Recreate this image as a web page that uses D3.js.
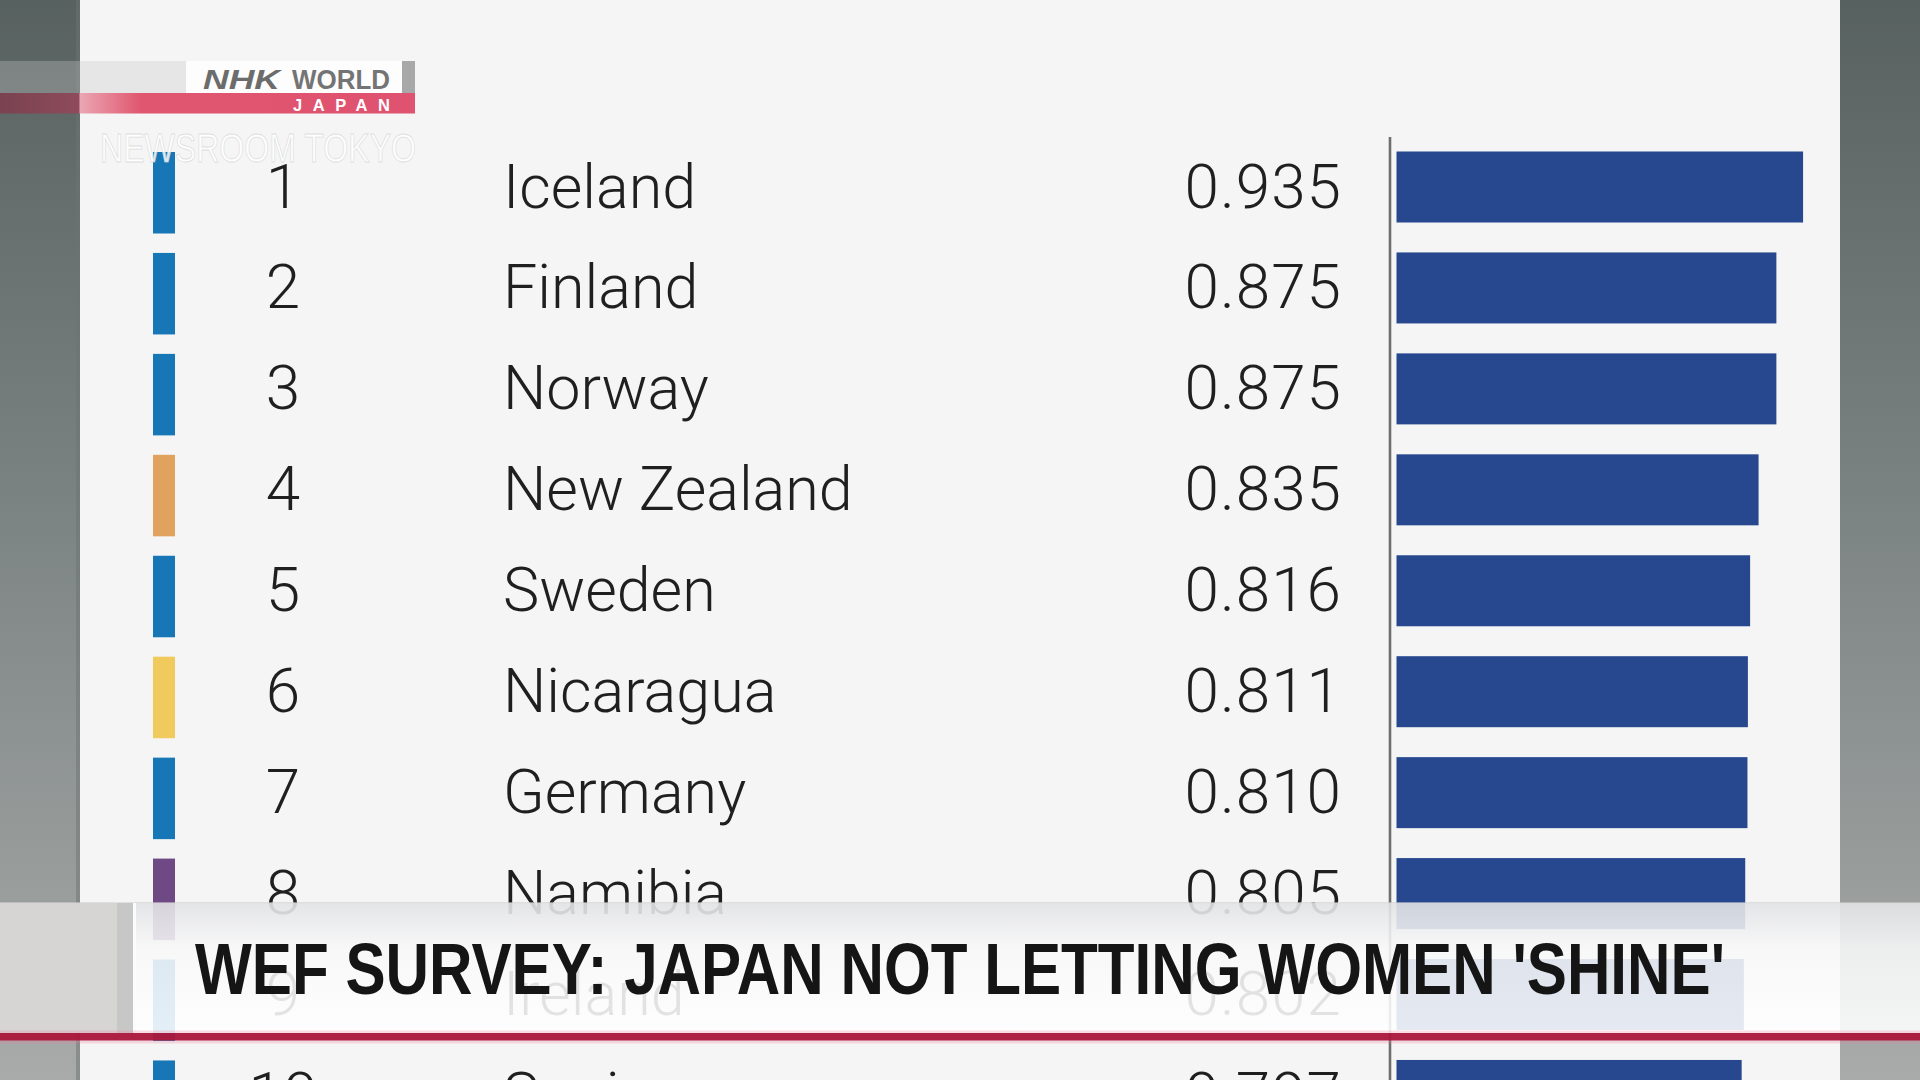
<!DOCTYPE html>
<html><head><meta charset="utf-8">
<script src="https://cdn.jsdelivr.net/npm/d3@7"></script>
<style>html,body{margin:0;padding:0;background:#5f6766;overflow:hidden}</style>
</head><body>
<svg id="c" width="1920" height="1080"></svg>
<script>
// ---- data ----
const ranks = [1, 2, 3, 4, 5, 6, 7, 8, 9, 10];
const countries = ["Iceland", "Finland", "Norway", "New Zealand", "Sweden", "Nicaragua", "Germany", "Namibia", "Ireland", "Spain"];
const scores = [0.935, 0.875, 0.875, 0.835, 0.816, 0.811, 0.810, 0.805, 0.802, 0.797];
const regions = ["Europe", "Europe", "Europe", "Oceania", "Europe", "Latin America", "Europe", "Africa", "Europe", "Europe"];
const regionNames = ["Europe", "Oceania", "Latin America", "Africa"];
const regionColors = ["#1676b6", "#e1a25e", "#f1ca5d", "#6e4984"];
const headline = "WEF SURVEY: JAPAN NOT LETTING WOMEN 'SHINE'";
const watermark = "NEWSROOM TOKYO";

const rows = ranks.map((r, i) => ({rank: r, country: countries[i], score: scores[i], region: regions[i]}));

const svg = d3.select("#c");
const defs = svg.append("defs");

// gradients
const bg = defs.append("linearGradient").attr("id", "bgGrad").attr("x1", 0).attr("y1", 0).attr("x2", 0).attr("y2", 1);
bg.append("stop").attr("offset", "0%").attr("stop-color", "#576160");
bg.append("stop").attr("offset", "45%").attr("stop-color", "#7a8281");
bg.append("stop").attr("offset", "100%").attr("stop-color", "#a8abaa");

const bn = defs.append("linearGradient").attr("id", "bannerGrad").attr("x1", 0).attr("y1", 0).attr("x2", 0).attr("y2", 1);
bn.append("stop").attr("offset", "0%").attr("stop-color", "rgb(226,227,229)").attr("stop-opacity", 0.9);
bn.append("stop").attr("offset", "35%").attr("stop-color", "rgb(248,248,249)").attr("stop-opacity", 0.88);
bn.append("stop").attr("offset", "100%").attr("stop-color", "rgb(255,255,255)").attr("stop-opacity", 0.88);

const rb = defs.append("linearGradient").attr("id", "redGrad").attr("x1", 0).attr("y1", 0).attr("x2", 1).attr("y2", 0);
rb.append("stop").attr("offset", "0%").attr("stop-color", "#7a4250");
rb.append("stop").attr("offset", "19%").attr("stop-color", "#8e4b5b");
rb.append("stop").attr("offset", "19.3%").attr("stop-color", "#eba6b3");
rb.append("stop").attr("offset", "34%").attr("stop-color", "#e0566f");
rb.append("stop").attr("offset", "100%").attr("stop-color", "#df5270");

// background and panel
svg.append("rect").attr("width", 1920).attr("height", 1080).attr("fill", "url(#bgGrad)");
svg.append("rect").attr("x", 76).attr("y", 0).attr("width", 4).attr("height", 1080).attr("fill", "#6b7372").attr("opacity", 0.5);
svg.append("rect").attr("x", 80).attr("y", 0).attr("width", 1760).attr("height", 1080).attr("fill", "#f4f5f4");

// scales
const y = d3.scaleBand().domain(ranks).range([151.5, 151.5 + 10 * 100.94]).paddingInner(0).paddingOuter(0);
const x = d3.scaleLinear().domain([0, 1]).range([1387, 1832]);
const color = d3.scaleOrdinal().domain(regionNames).range(regionColors);
const fmt = d3.format(".3f");
const barH = 71, stripH = 81.5;
const textFont = "Roboto, 'Liberation Sans', sans-serif";
const baseOff = barH / 2 + 20.5;

const chart = svg.append("g");

// region strips
chart.selectAll("rect.strip").data(rows).join("rect").attr("class", "strip")
  .attr("x", 153).attr("width", 22)
  .attr("y", d => y(d.rank) + 0.5).attr("height", stripH)
  .attr("fill", d => color(d.region));

// rank numbers
chart.selectAll("text.rank").data(rows).join("text").attr("class", "rank")
  .attr("x", 283).attr("y", d => y(d.rank) + baseOff)
  .attr("text-anchor", "middle")
  .attr("font-family", textFont).attr("font-weight", 300).attr("font-size", 62)
  .attr("fill", "#1f1f1f").text(d => d.rank);

// country names
chart.selectAll("text.name").data(rows).join("text").attr("class", "name")
  .attr("x", 503).attr("y", d => y(d.rank) + baseOff)
  .attr("font-family", textFont).attr("font-weight", 300).attr("font-size", 61)
  .attr("fill", "#1f1f1f").text(d => d.country);

// values
chart.selectAll("text.val").data(rows).join("text").attr("class", "val")
  .attr("x", 1342).attr("y", d => y(d.rank) + baseOff)
  .attr("text-anchor", "end").attr("letter-spacing", 1)
  .attr("font-family", textFont).attr("font-weight", 300).attr("font-size", 62)
  .attr("fill", "#1f1f1f").text(d => fmt(d.score));

// axis line
chart.append("line").attr("x1", x(0) + 3).attr("x2", x(0) + 3).attr("y1", 137).attr("y2", 1080)
  .attr("stroke", "#6e6e6e").attr("stroke-width", 2.6);

// bars
chart.selectAll("rect.bar").data(rows).join("rect").attr("class", "bar")
  .attr("x", x(0) + 9.5).attr("width", d => x(d.score) - x(0) - 9.5)
  .attr("y", d => y(d.rank)).attr("height", barH)
  .attr("fill", "#27488f");

// banner
const banner = svg.append("g");
banner.append("rect").attr("x", 0).attr("y", 903).attr("width", 1920).attr("height", 130).attr("fill", "url(#bannerGrad)");
banner.append("rect").attr("x", 0).attr("y", 902).attr("width", 1920).attr("height", 1.2).attr("fill", "#d0d0d0").attr("opacity", 0.6);
banner.append("rect").attr("x", 0).attr("y", 903).attr("width", 117).attr("height", 130).attr("fill", "#d6d5d4");
banner.append("rect").attr("x", 117).attr("y", 903).attr("width", 16).attr("height", 130).attr("fill", "#c7c7c7");
banner.append("rect").attr("x", 133).attr("y", 903).attr("width", 3).attr("height", 130).attr("fill", "#fbfbfb");
banner.append("text").attr("x", 195).attr("y", 993.5)
  .attr("font-family", "'Liberation Sans Narrow', 'Arial Narrow', 'Liberation Sans', sans-serif")
  .attr("font-weight", "bold").attr("font-size", 72)
  .attr("textLength", 1530).attr("lengthAdjust", "spacingAndGlyphs")
  .attr("fill", "#151515").text(headline);
banner.append("rect").attr("x", 0).attr("y", 1030.5).attr("width", 1920).attr("height", 13).attr("fill", "#f07a96").attr("opacity", 0.25);
banner.append("rect").attr("x", 0).attr("y", 1033).attr("width", 1920).attr("height", 7.5).attr("fill", "#a9173b").attr("opacity", 0.95);

// NHK logo
const logo = svg.append("g");
logo.append("rect").attr("x", 0).attr("y", 61).attr("width", 186).attr("height", 32).attr("fill", "rgb(200,200,200)").attr("opacity", 0.32);
logo.append("rect").attr("x", 186).attr("y", 61).attr("width", 216).attr("height", 32).attr("fill", "#fdfdfd");
logo.append("rect").attr("x", 402).attr("y", 61).attr("width", 13).attr("height", 32).attr("fill", "#a8a8a8");
logo.append("rect").attr("x", 0).attr("y", 93).attr("width", 415).attr("height", 20.5).attr("fill", "url(#redGrad)");
logo.append("text").attr("x", 203).attr("y", 88.5)
  .attr("font-family", "'Liberation Sans', Arial, sans-serif").attr("font-weight", "bold").attr("font-style", "italic")
  .attr("font-size", 27).attr("textLength", 77).attr("lengthAdjust", "spacingAndGlyphs")
  .attr("fill", "#6c6c6c").text("NHK");
logo.append("text").attr("x", 292).attr("y", 88.5)
  .attr("font-family", "'Liberation Sans Narrow', 'Liberation Sans', Arial, sans-serif").attr("font-weight", "bold")
  .attr("font-size", 27).attr("textLength", 98).attr("lengthAdjust", "spacingAndGlyphs")
  .attr("fill", "#747474").text("WORLD");
logo.append("text").attr("x", 293).attr("y", 111)
  .attr("font-family", "'Liberation Sans', Arial, sans-serif").attr("font-weight", "bold")
  .attr("font-size", 16.5).attr("textLength", 97).attr("lengthAdjust", "spacing")
  .attr("fill", "#ffffff").text("JAPAN");

// watermark
svg.append("text").attr("x", 100).attr("y", 162)
  .attr("font-family", "'Liberation Sans Narrow', 'Liberation Sans', sans-serif")
  .attr("font-size", 40).attr("textLength", 316).attr("lengthAdjust", "spacingAndGlyphs")
  .attr("fill", "#ffffff").attr("fill-opacity", 0.85)
  .attr("stroke", "#d2d2d2").attr("stroke-opacity", 0.7).attr("stroke-width", 0.8)
  .text(watermark);
</script>
</body></html>
